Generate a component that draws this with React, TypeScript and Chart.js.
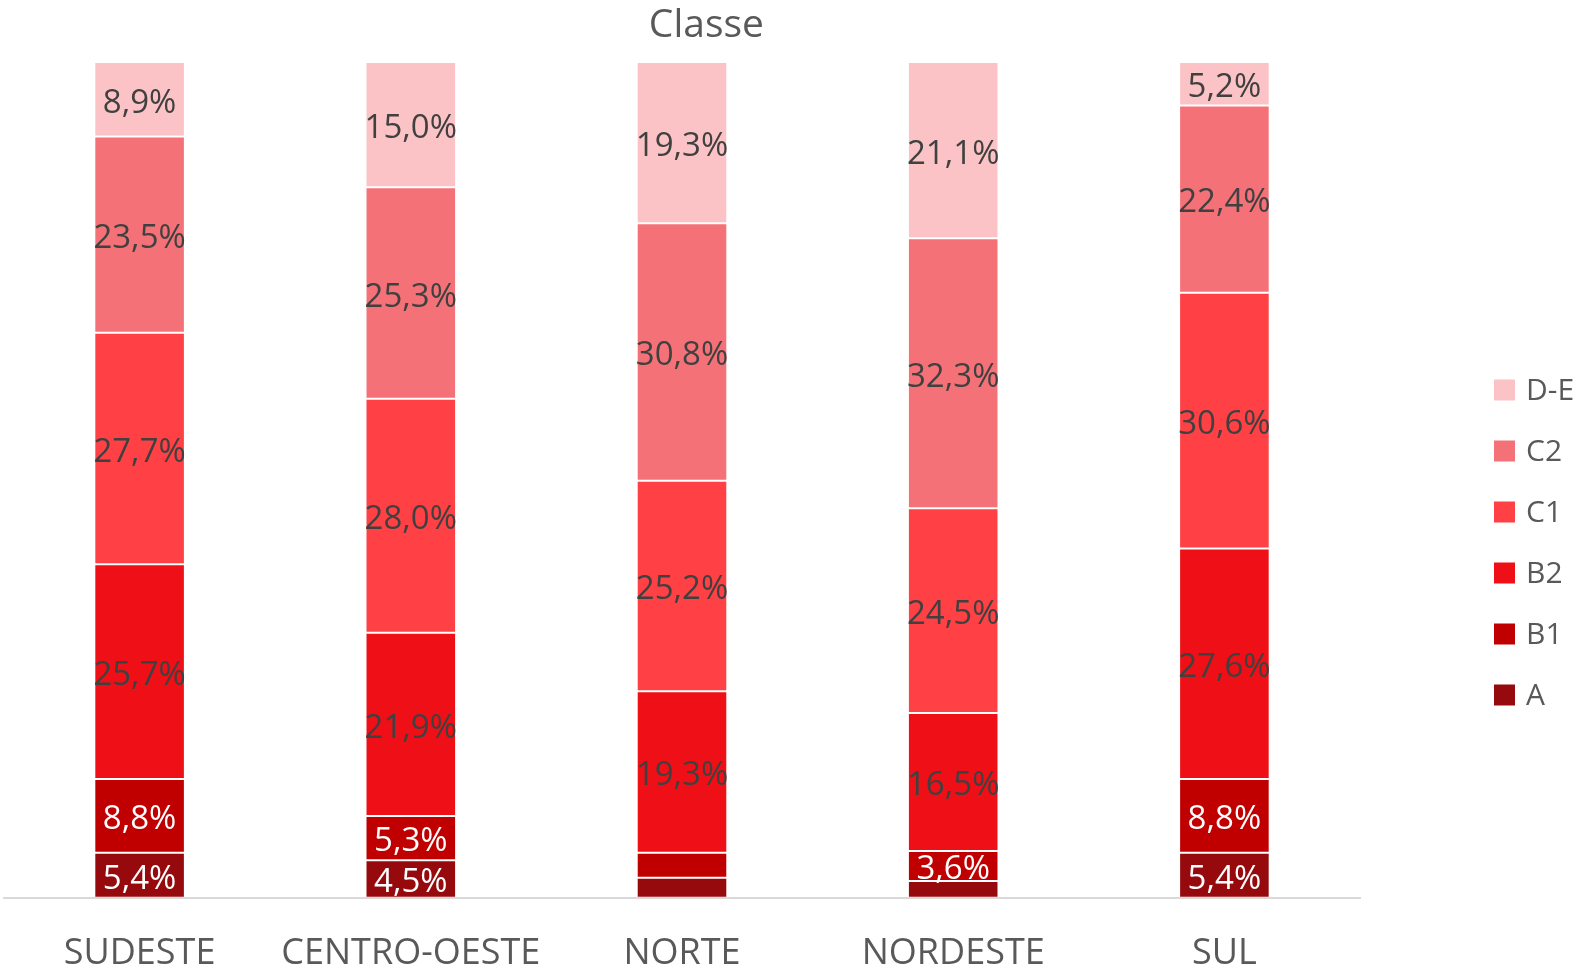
import React, { useEffect, useRef } from "react";
import { Chart, registerables } from "chart.js";

Chart.register(...registerables);

const categories = ["SUDESTE", "CENTRO-OESTE", "NORTE", "NORDESTE", "SUL"];
const seriesNames = ["A", "B1", "B2", "C1", "C2", "D-E"];
const valuesA = [5.4, 4.5, 2.4, 2.0, 5.4];
const valuesB1 = [8.8, 5.3, 3.0, 3.6, 8.8];
const valuesB2 = [25.7, 21.9, 19.3, 16.5, 27.6];
const valuesC1 = [27.7, 28.0, 25.2, 24.5, 30.6];
const valuesC2 = [23.5, 25.3, 30.8, 32.3, 22.4];
const valuesDE = [8.9, 15.0, 19.3, 21.1, 5.2];
const seriesColors = ["#960A0E", "#C00000", "#EE1016", "#FF4044", "#F47277", "#FCC3C6"];
const labelColors = ["#FFFFFF", "#FFFFFF", "#404040", "#404040", "#404040", "#404040"];
const labelThreshold = 3.2;
const titleText = "Classe";
const FONT = "'Open Sans', sans-serif";

const fmt = (v: number) => v.toFixed(1).replace(".", ",") + "%";

const dataLabelPlugin = {
  id: "dataLabels",
  afterDatasetsDraw(chart: any) {
    const ctx = chart.ctx;
    ctx.save();
    ctx.font = `33px ${FONT}`;
    ctx.textAlign = "center";
    ctx.textBaseline = "middle";
    chart.data.datasets.forEach((ds: any, di: number) => {
      const meta = chart.getDatasetMeta(di);
      meta.data.forEach((bar: any, i: number) => {
        const v = ds.data[i];
        if (v < labelThreshold) return;
        const p = bar.getProps(["x", "y", "base"], true);
        ctx.fillStyle = labelColors[di];
        ctx.fillText(fmt(v), p.x, (p.y + p.base) / 2 + 4);
      });
    });
    ctx.restore();
  },
};

const titleLegendPlugin = {
  id: "titleLegend",
  afterDraw(chart: any) {
    const ctx = chart.ctx;
    const area = chart.chartArea;
    ctx.save();
    ctx.fillStyle = "#595959";
    ctx.font = `39px ${FONT}`;
    ctx.textAlign = "center";
    ctx.textBaseline = "alphabetic";
    ctx.fillText(titleText, area.left + area.width * 0.518, 37);
    // legend
    const n = chart.data.datasets.length;
    ctx.font = `30px ${FONT}`;
    ctx.textAlign = "left";
    ctx.textBaseline = "middle";
    for (let k = 0; k < n; k++) {
      const di = n - 1 - k;
      const cy = 390 + k * 61;
      ctx.fillStyle = seriesColors[di];
      ctx.fillRect(area.right + 134, cy - 10.5, 21, 21);
      ctx.fillStyle = "#595959";
      ctx.fillText(seriesNames[di], area.right + 166, cy + 1);
    }
    ctx.restore();
  },
};

export default function App() {
  const ref = useRef<HTMLCanvasElement>(null);
  useEffect(() => {
    if (!ref.current) return;
    const allValues = [valuesA, valuesB1, valuesB2, valuesC1, valuesC2, valuesDE];
    const chart = new Chart(ref.current, {
      type: "bar",
      data: {
        labels: categories,
        datasets: allValues.map((vals, i) => ({
          label: seriesNames[i],
          data: vals,
          backgroundColor: seriesColors[i],
          borderColor: "rgba(255,255,255,0.1)",
          borderWidth: 1,
          borderSkipped: false,
          barPercentage: 1,
          categoryPercentage: 0.334,
        })),
      },
      options: {
        animation: false,
        responsive: false,
        maintainAspectRatio: false,
        layout: { padding: { top: 62, left: 4, right: 228, bottom: -36 } },
        plugins: {
          legend: { display: false },
          title: { display: false },
          tooltip: { enabled: false },
        },
        scales: {
          x: {
            stacked: true,
            grid: { display: false, drawTicks: false },
            border: { display: true, color: "#D9D9D9", width: 2 },
            ticks: {
              color: "#595959",
              font: { family: FONT, size: 36 },
              padding: 34,
              maxRotation: 0,
              autoSkip: false,
            },
          },
          y: {
            stacked: true,
            display: false,
            min: 0,
            max: 100,
          },
        },
      },
      plugins: [dataLabelPlugin, titleLegendPlugin],
    });
    return () => chart.destroy();
  }, []);
  return (
    <div style={{ position: "absolute", left: 0, top: 0, width: 1588, height: 973, background: "#fff" }}>
      <canvas ref={ref} width={1588} height={973} style={{ width: 1588, height: 973 }} />
    </div>
  );
}
